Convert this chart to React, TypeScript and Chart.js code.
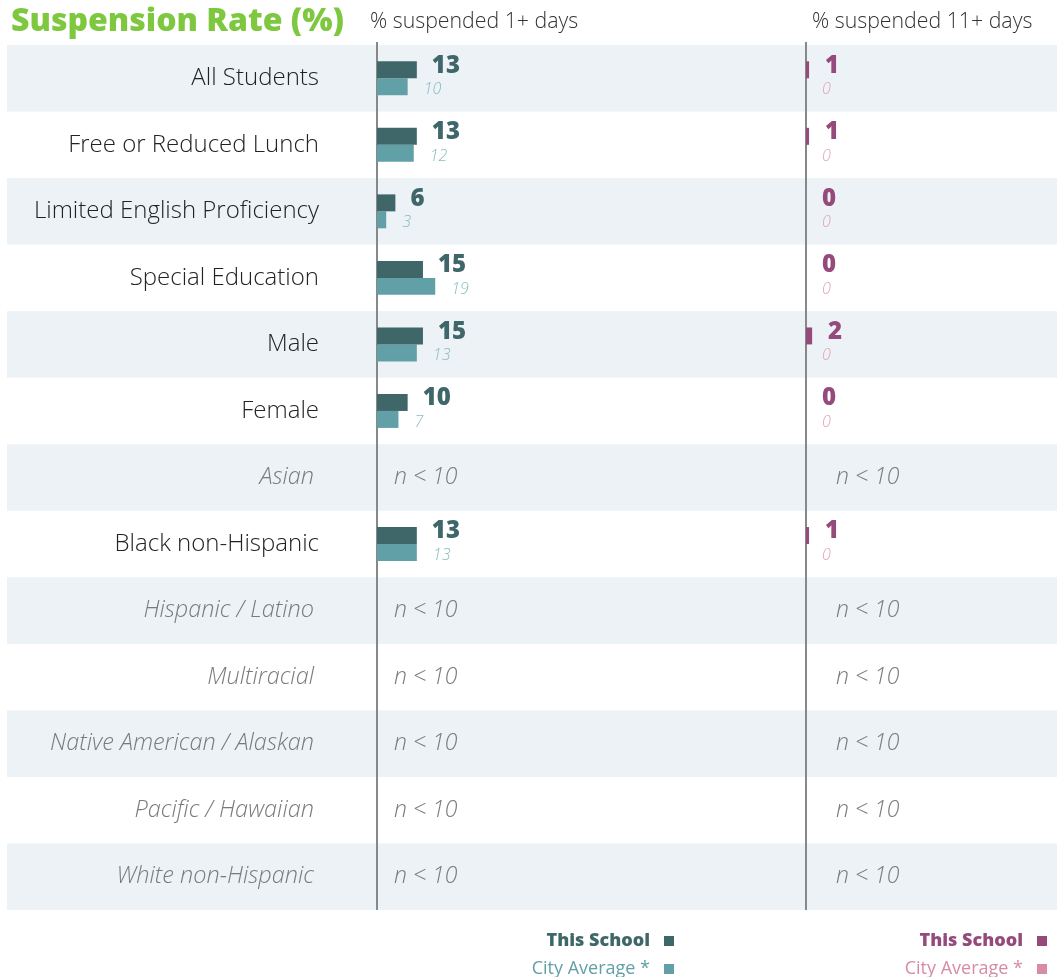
import React, { useEffect, useRef } from "react";
import { Chart, registerables } from "chart.js";

Chart.register(...registerables);

const categories = [
  "All Students",
  "Free or Reduced Lunch",
  "Limited English Proficiency",
  "Special Education",
  "Male",
  "Female",
  "Asian",
  "Black non-Hispanic",
  "Hispanic / Latino",
  "Multiracial",
  "Native American / Alaskan",
  "Pacific / Hawaiian",
  "White non-Hispanic",
];

const school1Plus: (number | null)[] = [13, 13, 6, 15, 15, 10, null, 13, null, null, null, null, null];
const city1Plus: (number | null)[] = [10, 12, 3, 19, 13, 7, null, 13, null, null, null, null, null];
const school11Plus: (number | null)[] = [1, 1, 0, 0, 2, 0, null, 1, null, null, null, null, null];
const city11Plus: (number | null)[] = [0, 0, 0, 0, 0, 0, null, 0, null, null, null, null, null];

const titleText = "Suspension Rate (%)";
const panel1Title = "% suspended 1+ days";
const panel2Title = "% suspended 11+ days";
const smallN = "n < 10";

const C = {
  darkTeal: "#3f6769",
  lightTeal: "#62a0a7",
  lightTealText: "#86bcc2",
  purple: "#954a7c",
  pink: "#d78ca4",
  pinkText: "#e0a4b8",
  green: "#7dc83e",
  band: "#edf2f6",
  axis: "#888888",
};

const FONT = "'Open Sans', 'Noto Sans', sans-serif";

export default function App() {
  const ref = useRef<HTMLCanvasElement | null>(null);

  useEffect(() => {
    if (!ref.current) return;
    const small = (i: number) => school1Plus[i] === null;

    const decor = {
      id: "decor",
      beforeDatasetsDraw(chart: any) {
        const ctx = chart.ctx;
        const y = chart.scales.y;
        const x1 = chart.scales.x1;
        const x2 = chart.scales.x2;
        const step = Math.abs(y.getPixelForValue(1) - y.getPixelForValue(0));
        ctx.save();
        categories.forEach((_, i) => {
          if (i % 2 === 0) {
            const cy = y.getPixelForValue(i);
            ctx.fillStyle = C.band;
            ctx.fillRect(7, cy - step / 2, 1050, step);
          }
        });
        ctx.textBaseline = "middle";
        ctx.textAlign = "right";
        categories.forEach((label, i) => {
          const cy = y.getPixelForValue(i);
          if (small(i)) {
            ctx.font = `italic 300 23.5px ${FONT}`;
            ctx.fillStyle = "#7a7a7a";
            ctx.fillText(label, x1.left - 63, cy);
          } else {
            ctx.font = `300 24px ${FONT}`;
            ctx.fillStyle = "#222222";
            ctx.fillText(label, x1.left - 58, cy);
          }
        });
        ctx.textAlign = "left";
        ctx.font = `italic 300 23px ${FONT}`;
        ctx.fillStyle = "#7a7a7a";
        categories.forEach((_, i) => {
          if (small(i)) {
            const cy = y.getPixelForValue(i);
            ctx.fillText(smallN, x1.left + 17, cy);
            ctx.fillText(smallN, x2.left + 30, cy);
          }
        });
        ctx.strokeStyle = C.axis;
        ctx.lineWidth = 2;
        [x1.left, x2.left].forEach((px) => {
          ctx.beginPath();
          ctx.moveTo(px, chart.chartArea.top - 3);
          ctx.lineTo(px, chart.chartArea.bottom);
          ctx.stroke();
        });
        ctx.restore();
      },
      afterDatasetsDraw(chart: any) {
        const ctx = chart.ctx;
        ctx.save();
        ctx.textAlign = "left";
        ctx.textBaseline = "middle";
        const styles = [
          { font: `800 24px ${FONT}`, color: C.darkTeal, dy: -4, dx: 15 },
          { font: `italic 300 16px ${FONT}`, color: C.lightTealText, dy: 3, dx: 16 },
          { font: `800 24px ${FONT}`, color: C.purple, dy: -4, dx: 16 },
          { font: `italic 300 16px ${FONT}`, color: C.pinkText, dy: 3, dx: 16 },
        ];
        chart.data.datasets.forEach((ds: any, di: number) => {
          const meta = chart.getDatasetMeta(di);
          const st = styles[di];
          meta.data.forEach((bar: any, i: number) => {
            const v = ds.data[i];
            if (v === null || v === undefined) return;
            ctx.font = st.font;
            ctx.fillStyle = st.color;
            ctx.fillText(String(v), bar.x + st.dx, bar.y + st.dy);
          });
        });
        ctx.restore();
      },
      afterDraw(chart: any) {
        const ctx = chart.ctx;
        ctx.save();
        ctx.textBaseline = "middle";
        ctx.textAlign = "left";
        ctx.font = `800 32px ${FONT}`;
        ctx.fillStyle = C.green;
        ctx.fillText(titleText, 11, 22);
        ctx.font = `300 21.3px ${FONT}`;
        ctx.fillStyle = "#333333";
        ctx.fillText(panel1Title, 370, 22);
        ctx.fillText(panel2Title, 812, 22);
        const legend = (right: number, c1: string, c2: string, t2: string) => {
          ctx.textAlign = "right";
          ctx.font = `800 18px ${FONT}`;
          ctx.fillStyle = c1;
          ctx.fillText("This School", right - 25, 941);
          ctx.fillRect(right - 11, 936, 10, 10);
          ctx.font = `400 18px ${FONT}`;
          ctx.fillStyle = t2;
          ctx.fillText("City Average *", right - 25, 969);
          ctx.fillStyle = c2;
          ctx.fillRect(right - 11, 964, 10, 10);
        };
        legend(675, C.darkTeal, C.lightTeal, C.lightTeal);
        legend(1048, C.purple, C.pink, C.pink);
        ctx.restore();
      },
    };

    const hiddenX = (stackWeight: number, max: number) => ({
      type: "linear" as const,
      position: "bottom" as const,
      stack: "panels",
      stackWeight,
      min: 0,
      max,
      ticks: { display: false },
      grid: { display: false, drawTicks: false },
      border: { display: false },
      afterFit: (s: any) => {
        s.height = 0;
      },
    });

    const chart = new Chart(ref.current, {
      type: "bar",
      data: {
        labels: categories,
        datasets: [
          { label: "This School", data: school1Plus, backgroundColor: C.darkTeal, xAxisID: "x1", stack: "school" },
          { label: "City Average *", data: city1Plus, backgroundColor: C.lightTeal, xAxisID: "x1", stack: "city" },
          { label: "This School", data: school11Plus, backgroundColor: C.purple, xAxisID: "x2", stack: "school" },
          { label: "City Average *", data: city11Plus, backgroundColor: C.pink, xAxisID: "x2", stack: "city" },
        ] as any,
      },
      options: {
        indexAxis: "y",
        responsive: false,
        animation: false,
        devicePixelRatio: 1,
        layout: { padding: { left: 0, right: 7, top: 45, bottom: 67 } },
        datasets: {
          bar: { categoryPercentage: 0.51, barPercentage: 1, borderWidth: 0 },
        },
        plugins: {
          legend: { display: false },
          tooltip: { enabled: false },
        },
        scales: {
          y: {
            type: "category",
            position: "left",
            ticks: { display: false },
            grid: { display: false, drawTicks: false },
            border: { display: false },
            afterFit: (s: any) => {
              s.width = 377;
            },
          },
          x1: hiddenX(429, 140),
          x2: hiddenX(251, 82),
        } as any,
      },
      plugins: [decor],
    });
    return () => chart.destroy();
  }, []);

  return (
    <div style={{ position: "absolute", left: 0, top: 0, width: 1064, height: 977, overflow: "hidden", background: "#fff" }}>
      <canvas ref={ref} width={1064} height={977} />
    </div>
  );
}
